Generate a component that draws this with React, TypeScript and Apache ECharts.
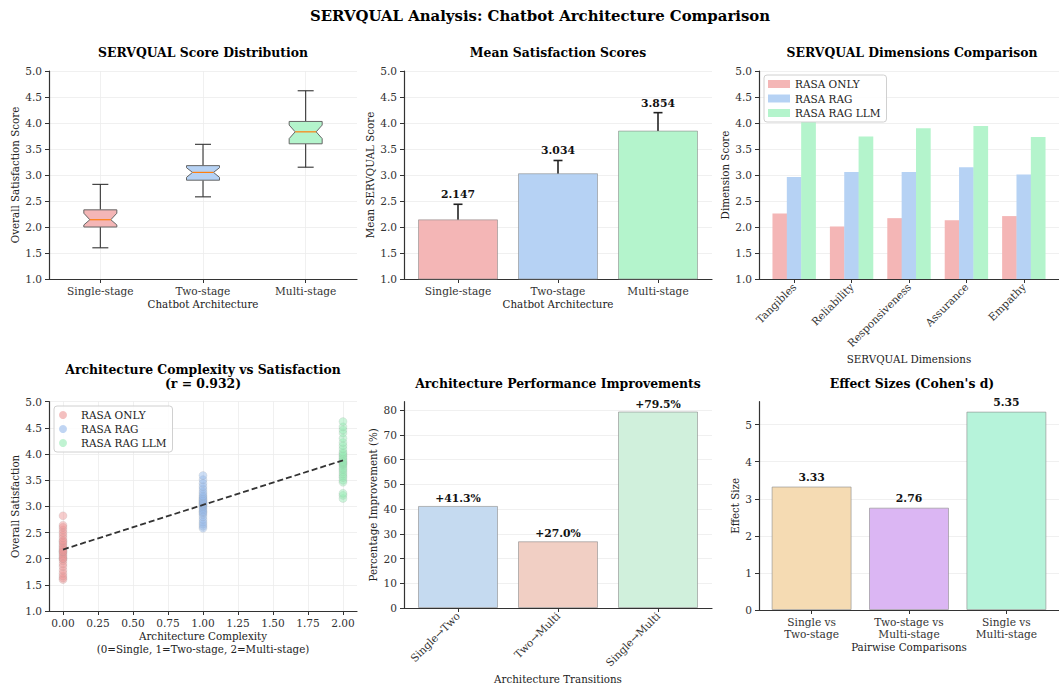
import React, { useEffect, useRef } from 'react';
import * as echarts from 'echarts';

const FONT = '"DejaVu Serif", serif';

// ---------- data ----------
const architectures = ['Single-stage', 'Two-stage', 'Multi-stage'];
const groupNames = ['RASA ONLY', 'RASA RAG', 'RASA RAG LLM'];

// panel 1: notched box plot statistics
const boxMin = [1.6, 2.58, 3.15];
const boxQ1 = [2.0, 2.9, 3.6];
const boxMedian = [2.14, 3.05, 3.83];
const boxQ3 = [2.33, 3.18, 4.03];
const boxMax = [2.82, 3.59, 4.62];
const notchLow = [2.04, 2.955, 3.7];
const notchHigh = [2.265, 3.14, 3.96];

// panel 2: means and standard deviations
const meanScores = [2.147, 3.034, 3.854];
const stdScores = [0.29, 0.245, 0.345];

// panel 3: SERVQUAL dimensions
const dimensions = ['Tangibles', 'Reliability', 'Responsiveness', 'Assurance', 'Empathy'];
const dimRasaOnly = [2.26, 2.01, 2.17, 2.13, 2.21];
const dimRasaRag = [2.96, 3.06, 3.06, 3.15, 3.01];
const dimRasaRagLlm = [4.02, 3.74, 3.9, 3.94, 3.73];

// panel 4: individual satisfaction scores
const complexity = [0, 1, 2];
const scoresRasaOnly = [1.6, 1.63, 1.67, 1.72, 1.78, 1.85, 1.9, 1.96, 2.0, 2.0, 2.03, 2.06, 2.09, 2.12, 2.14, 2.14, 2.17, 2.2, 2.23, 2.26, 2.3, 2.33, 2.35, 2.4, 2.45, 2.5, 2.55, 2.6, 2.64, 2.82];
const scoresRasaRag = [2.58, 2.62, 2.66, 2.7, 2.75, 2.8, 2.85, 2.88, 2.9, 2.93, 2.96, 2.99, 3.01, 3.03, 3.05, 3.05, 3.07, 3.09, 3.11, 3.13, 3.15, 3.18, 3.2, 3.24, 3.28, 3.33, 3.38, 3.44, 3.51, 3.59];
const scoresRasaRagLlm = [3.15, 3.21, 3.25, 3.46, 3.5, 3.55, 3.58, 3.62, 3.66, 3.7, 3.73, 3.77, 3.8, 3.82, 3.84, 3.86, 3.89, 3.92, 3.95, 3.98, 4.01, 4.04, 4.1, 4.16, 4.22, 4.3, 4.4, 4.46, 4.52, 4.62];
const trendX = [0, 2];
const trendY = [2.175, 3.88];

// panel 5: improvements
const transitions = ['Single\u2192Two', 'Two\u2192Multi', 'Single\u2192Multi'];
const improvements = [41.3, 27.0, 79.5];

// panel 6: effect sizes
const comparisons = ['Single vs\nTwo-stage', 'Two-stage vs\nMulti-stage', 'Single vs\nMulti-stage'];
const effectSizes = [3.33, 2.76, 5.35];

// ticks
const scoreTicks = [1.0, 1.5, 2.0, 2.5, 3.0, 3.5, 4.0, 4.5, 5.0];
const complexityTicks = [0, 0.25, 0.5, 0.75, 1.0, 1.25, 1.5, 1.75, 2.0];
const improvementTicks = [0, 10, 20, 30, 40, 50, 60, 70, 80];
const effectTicks = [0, 1, 2, 3, 4, 5];

// ---------- styles ----------
const archColors = ['#f4b6b6', '#b6d2f4', '#b4f4cc'];
const scatterColors = ['rgba(236,150,150,0.6)', 'rgba(150,185,235,0.6)', 'rgba(150,235,180,0.6)'];
const transitionColors = ['#c5daf0', '#f1cfc4', '#d0f0dc'];
const effectColors = ['#f5dbb3', '#dbb6f3', '#b6f3da'];

const grids = [
  { left: 49, top: 71, width: 308, height: 208 },
  { left: 404, top: 71, width: 308, height: 208 },
  { left: 759, top: 71, width: 308, height: 208 },
  { left: 49, top: 401.7, width: 308, height: 209.3 },
  { left: 404, top: 401.7, width: 308, height: 208.3 },
  { left: 759, top: 401.7, width: 308, height: 208.3 },
];

const TICK_FS = 10.6;
const axisLineStyle = { show: true, onZero: false, lineStyle: { color: '#333', width: 1.2 } };
const splitStyle = (show: boolean) => ({ show, lineStyle: { color: '#ececec', width: 0.8 } });
const nameStyle = { fontFamily: FONT, fontSize: 10.3, color: '#222', lineHeight: 13 };

function xAxisDef(opts: any) {
  return {
    type: 'value',
    gridIndex: opts.grid,
    min: opts.min,
    max: opts.max,
    name: opts.name,
    nameLocation: 'middle',
    nameGap: opts.nameGap,
    nameTextStyle: nameStyle,
    axisLine: axisLineStyle,
    axisTick: { show: true, length: 4, lineStyle: { color: '#333' }, customValues: opts.ticks },
    axisLabel: {
      color: '#333', fontFamily: FONT, fontSize: TICK_FS, margin: 6, lineHeight: 12,
      customValues: opts.ticks, rotate: opts.rotate || 0,
      formatter: opts.formatter,
    },
    splitLine: splitStyle(!!opts.split),
  };
}

function yAxisDef(opts: any) {
  return {
    type: 'value',
    gridIndex: opts.grid,
    min: opts.min,
    max: opts.max,
    name: opts.name,
    nameLocation: 'middle',
    nameGap: opts.nameGap,
    nameTextStyle: nameStyle,
    axisLine: axisLineStyle,
    axisTick: { show: true, length: 4, lineStyle: { color: '#333' }, customValues: opts.ticks },
    axisLabel: {
      color: '#333', fontFamily: FONT, fontSize: TICK_FS, margin: 7,
      customValues: opts.ticks, formatter: opts.formatter,
    },
    splitLine: splitStyle(true),
  };
}

const fmt1 = (v: number) => v.toFixed(1);
const fmt2 = (v: number) => v.toFixed(2);
const fmt0 = (v: number) => String(Math.round(v));
const nameAt = (arr: string[]) => (v: number) => arr[Math.round(v)] ?? '';
const nameAt1 = (arr: string[]) => (v: number) => arr[Math.round(v) - 1] ?? '';

function buildOption(): any {
  const xAxes = [
    xAxisDef({ grid: 0, min: 0.5, max: 3.5, ticks: [1, 2, 3], formatter: nameAt1(architectures), name: 'Chatbot Architecture', nameGap: 18, split: true }),
    xAxisDef({ grid: 1, min: -0.54, max: 2.54, ticks: [0, 1, 2], formatter: nameAt(architectures), name: 'Chatbot Architecture', nameGap: 18 }),
    xAxisDef({ grid: 2, min: -0.6125, max: 4.6125, ticks: [0, 1, 2, 3, 4], formatter: nameAt(dimensions), rotate: 45, name: 'SERVQUAL Dimensions', nameGap: 73 }),
    xAxisDef({ grid: 3, min: -0.1, max: 2.1, ticks: complexityTicks, formatter: fmt2, name: 'Architecture Complexity\n(0=Single, 1=Two-stage, 2=Multi-stage)', nameGap: 15, split: true }),
    xAxisDef({ grid: 4, min: -0.54, max: 2.54, ticks: [0, 1, 2], formatter: nameAt(transitions), rotate: 45, name: 'Architecture Transitions', nameGap: 64 }),
    xAxisDef({ grid: 5, min: -0.54, max: 2.54, ticks: [0, 1, 2], formatter: nameAt(comparisons), name: 'Pairwise Comparisons', nameGap: 29 }),
  ];
  const yAxes = [
    yAxisDef({ grid: 0, min: 1, max: 5, ticks: scoreTicks, formatter: fmt1, name: 'Overall Satisfaction Score', nameGap: 27 }),
    yAxisDef({ grid: 1, min: 1, max: 5, ticks: scoreTicks, formatter: fmt1, name: 'Mean SERVQUAL Score', nameGap: 26 }),
    yAxisDef({ grid: 2, min: 1, max: 5, ticks: scoreTicks, formatter: fmt1, name: 'Dimension Score', nameGap: 26 }),
    yAxisDef({ grid: 3, min: 1, max: 5, ticks: scoreTicks, formatter: fmt1, name: 'Overall Satisfaction', nameGap: 27 }),
    yAxisDef({ grid: 4, min: 0, max: 83.475, ticks: improvementTicks, formatter: fmt0, name: 'Percentage Improvement (%)', nameGap: 23 }),
    yAxisDef({ grid: 5, min: 0, max: 5.6175, ticks: effectTicks, formatter: fmt0, name: 'Effect Size', nameGap: 16 }),
  ];

  const series: any[] = [];

  // panel 1: notched box plot
  series.push({
    type: 'custom',
    xAxisIndex: 0,
    yAxisIndex: 0,
    data: architectures.map((_, i) => [i + 1, boxMin[i], boxQ1[i], boxMedian[i], boxQ3[i], boxMax[i], notchLow[i], notchHigh[i]]),
    encode: { x: 0, y: [1, 2, 3, 4, 5] },
    renderItem: (params: any, api: any) => {
      const x = api.value(0);
      const cx = api.coord([x, api.value(1)])[0];
      const y = (k: number) => api.coord([x, api.value(k)])[1];
      const yMin = y(1), yQ1 = y(2), yMed = y(3), yQ3 = y(4), yMax = y(5), yNL = y(6), yNH = y(7);
      const hw = 16.5, inset = 6, cap = 8;
      const l = cx - hw, r = cx + hw;
      const ws = { stroke: '#333', lineWidth: 1.1 };
      return {
        type: 'group',
        children: [
          { type: 'line', shape: { x1: cx, y1: yMin, x2: cx, y2: yQ1 }, style: ws },
          { type: 'line', shape: { x1: cx, y1: yQ3, x2: cx, y2: yMax }, style: ws },
          { type: 'line', shape: { x1: cx - cap, y1: yMin, x2: cx + cap, y2: yMin }, style: ws },
          { type: 'line', shape: { x1: cx - cap, y1: yMax, x2: cx + cap, y2: yMax }, style: ws },
          {
            type: 'polygon',
            shape: {
              points: [
                [l, yQ1], [l, yNL], [l + inset, yMed], [l, yNH], [l, yQ3],
                [r, yQ3], [r, yNH], [r - inset, yMed], [r, yNL], [r, yQ1],
              ],
            },
            style: { fill: archColors[params.dataIndex], stroke: '#666', lineWidth: 1 },
          },
          { type: 'line', shape: { x1: l + inset, y1: yMed, x2: r - inset, y2: yMed }, style: { stroke: '#ff7f0e', lineWidth: 1.2 } },
        ],
      };
    },
  });

  // panel 2: mean bars with error bars
  series.push({
    type: 'bar',
    xAxisIndex: 1,
    yAxisIndex: 1,
    barWidth: 80,
    data: meanScores.map((v, i) => ({ value: [i, v], itemStyle: { color: archColors[i] } })),
    itemStyle: { borderColor: 'rgba(140,140,140,0.6)', borderWidth: 1 },
  });
  series.push({
    type: 'custom',
    xAxisIndex: 1,
    yAxisIndex: 1,
    data: meanScores.map((v, i) => [i, v - stdScores[i], v + stdScores[i], v]),
    encode: { x: 0, y: [1, 2] },
    renderItem: (params: any, api: any) => {
      const x = api.value(0);
      const [cx, yLo] = api.coord([x, api.value(1)]);
      const yHi = api.coord([x, api.value(2)])[1];
      const st = { stroke: '#222', lineWidth: 1.6 };
      return {
        type: 'group',
        children: [
          { type: 'line', shape: { x1: cx, y1: yLo, x2: cx, y2: yHi }, style: st },
          { type: 'line', shape: { x1: cx - 4.5, y1: yLo, x2: cx + 4.5, y2: yLo }, style: st },
          { type: 'line', shape: { x1: cx - 4.5, y1: yHi, x2: cx + 4.5, y2: yHi }, style: st },
          {
            type: 'text',
            x: cx,
            y: yHi - 4,
            style: {
              text: meanScores[params.dataIndex].toFixed(3),
              fontFamily: FONT, fontSize: 10.8, fontWeight: 'bold', fill: '#111',
              align: 'center', verticalAlign: 'bottom',
            },
          },
        ],
      };
    },
  });

  // panel 3: grouped bars
  const dimSeries = [dimRasaOnly, dimRasaRag, dimRasaRagLlm];
  dimSeries.forEach((vals, s) => {
    series.push({
      type: 'bar',
      name: groupNames[s],
      xAxisIndex: 2,
      yAxisIndex: 2,
      barWidth: 14.7,
      barGap: '-100%',
      data: vals.map((v, i) => [i + (s - 1) * 0.25, v]),
      itemStyle: { color: archColors[s] },
    });
  });

  // panel 4: scatter + trend line
  const scatterGroups = [scoresRasaOnly, scoresRasaRag, scoresRasaRagLlm];
  scatterGroups.forEach((vals, s) => {
    series.push({
      type: 'scatter',
      name: groupNames[s],
      xAxisIndex: 3,
      yAxisIndex: 3,
      symbolSize: 8,
      data: vals.map((v) => [complexity[s], v]),
      itemStyle: { color: scatterColors[s], borderColor: 'rgba(150,150,150,0.35)', borderWidth: 0.6 },
    });
  });
  series.push({
    type: 'line',
    xAxisIndex: 3,
    yAxisIndex: 3,
    symbol: 'none',
    data: trendX.map((x, i) => [x, trendY[i]]),
    lineStyle: { color: '#333', width: 1.8, type: [6, 3] },
  });

  // panel 5: improvements
  series.push({
    type: 'bar',
    xAxisIndex: 4,
    yAxisIndex: 4,
    barWidth: 80,
    data: improvements.map((v, i) => ({ value: [i, v], itemStyle: { color: transitionColors[i] } })),
    itemStyle: { borderColor: 'rgba(140,140,140,0.6)', borderWidth: 1 },
    label: {
      show: true, position: 'top', distance: 2,
      fontFamily: FONT, fontSize: 10.8, fontWeight: 'bold', color: '#111',
      formatter: (p: any) => '+' + p.value[1].toFixed(1) + '%',
    },
  });

  // panel 6: effect sizes
  series.push({
    type: 'bar',
    xAxisIndex: 5,
    yAxisIndex: 5,
    barWidth: 80,
    data: effectSizes.map((v, i) => ({ value: [i, v], itemStyle: { color: effectColors[i] } })),
    itemStyle: { borderColor: 'rgba(140,140,140,0.6)', borderWidth: 1 },
    label: {
      show: true, position: 'top', distance: 4,
      fontFamily: FONT, fontSize: 10.8, fontWeight: 'bold', color: '#111',
      formatter: (p: any) => p.value[1].toFixed(2),
    },
  });

  const titleFont = (size: number) => ({ fontFamily: FONT, fontSize: size, fontWeight: 'bold', fill: '#000', align: 'center', verticalAlign: 'middle' });
  const titles = [
    { text: 'SERVQUAL Analysis: Chatbot Architecture Comparison', x: 540, y: 16, size: 14.9 },
    { text: 'SERVQUAL Score Distribution', x: 203, y: 52, size: 12.4 },
    { text: 'Mean Satisfaction Scores', x: 558, y: 52, size: 12.4 },
    { text: 'SERVQUAL Dimensions Comparison', x: 912, y: 52, size: 12.4 },
    { text: 'Architecture Complexity vs Satisfaction', x: 203, y: 369, size: 12.4 },
    { text: '(r = 0.932)', x: 203, y: 383, size: 12.4 },
    { text: 'Architecture Performance Improvements', x: 558, y: 383, size: 12.4 },
    { text: "Effect Sizes (Cohen's d)", x: 912, y: 383, size: 12.4 },
  ];

  const legendText = { fontFamily: FONT, fontSize: 10.5, color: '#222', lineHeight: 12 };

  return {
    animation: false,
    backgroundColor: '#fff',
    grid: grids,
    xAxis: xAxes,
    yAxis: yAxes,
    series,
    legend: [
      {
        orient: 'vertical', left: 764, top: 75,
        padding: [3, 6, 3, 4], itemGap: 2.5, itemWidth: 22, itemHeight: 8,
        backgroundColor: 'rgba(255,255,255,0.85)', borderColor: '#d0d0d0', borderWidth: 1, borderRadius: 3,
        textStyle: legendText,
        data: groupNames.map((n, i) => ({ name: n, icon: 'rect', itemStyle: { color: archColors[i], borderWidth: 0 } })),
        selectedMode: false,
      },
      {
        orient: 'vertical', left: 54, top: 406,
        padding: [3, 6, 3, 5], itemGap: 2, itemWidth: 20, itemHeight: 8,
        backgroundColor: 'rgba(255,255,255,0.85)', borderColor: '#d0d0d0', borderWidth: 1, borderRadius: 3,
        textStyle: { ...legendText, padding: [0, 0, 0, 3] },
        data: groupNames.map((n, i) => ({ name: n, icon: 'circle', itemStyle: { color: scatterColors[i], borderWidth: 0 } })),
        selectedMode: false,
      },
    ],
    graphic: titles.map((t) => ({
      type: 'text', x: t.x, y: t.y, silent: true,
      style: { text: t.text, ...titleFont(t.size) },
    })),
  };
}

export default function App() {
  const ref = useRef<HTMLDivElement>(null);
  useEffect(() => {
    if (!ref.current) return;
    const chart = echarts.init(ref.current, undefined, { renderer: 'svg' });
    chart.setOption(buildOption());
    return () => chart.dispose();
  }, []);
  return (
    <div
      ref={ref}
      style={{ position: 'fixed', left: 0, top: 0, width: 1059, height: 686, background: '#fff' }}
    />
  );
}
